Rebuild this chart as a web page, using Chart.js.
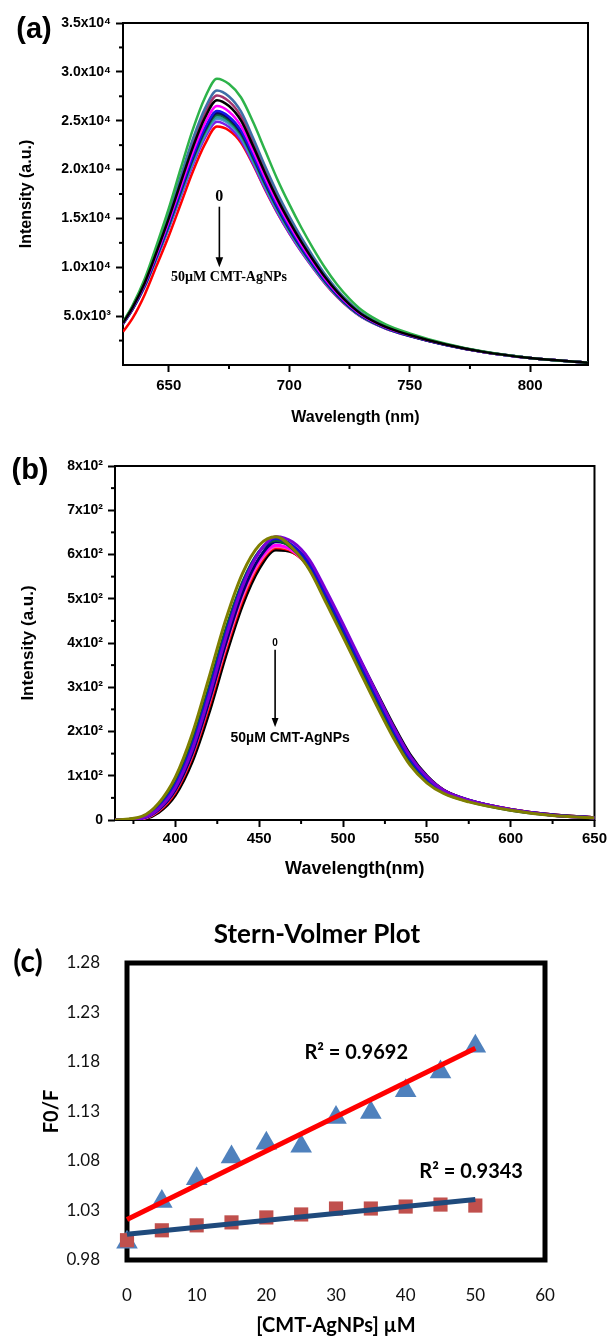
<!DOCTYPE html>
<html>
<head>
<meta charset="utf-8">
<script src="https://cdn.jsdelivr.net/npm/chart.js@4.4.1/dist/chart.umd.min.js"></script>
<style>
  html, body { margin: 0; padding: 0; background: #fff; }
  #page { position: relative; width: 610px; height: 1336px; overflow: hidden; background: #fff; }
  canvas { position: absolute; left: 0; }
</style>
</head>
<body>
<div id="page">
  <canvas id="chartA" width="610" height="440" style="top:0px"></canvas>
  <canvas id="chartB" width="610" height="440" style="top:440px"></canvas>
  <canvas id="chartC" width="610" height="456" style="top:880px"></canvas>
</div>
<script>
// ---- (a) emission spectra, 0 -> 50 uM CMT-AgNPs ----
const aWavelengths = [631, 635, 640, 645, 650, 655, 660, 665, 670, 675, 680, 685, 690, 695, 700, 705, 710, 715, 720, 725, 730, 740, 750, 765, 780, 800, 824];
const aBlack     = [4300, 5900, 8400, 11600, 15000, 18700, 22300, 25300, 27100, 26500, 25000, 22400, 19600, 17000, 14700, 12600, 10700, 8950, 7450, 6200, 5200, 3900, 3070, 2100, 1370, 716, 230];
const aGreen     = [4400, 6120, 8810, 12300, 16030, 20140, 24110, 27350, 29300, 28750, 27380, 24860, 21950, 19040, 16460, 14070, 11890, 9900, 8180, 6760, 5620, 4160, 3240, 2180, 1400, 725, 230];
const aSteel     = [4350, 6000, 8590, 11920, 15470, 19360, 23130, 26240, 28100, 27480, 25930, 23230, 20330, 17630, 15240, 13050, 11070, 9240, 7680, 6370, 5330, 3980, 3120, 2120, 1380, 719, 230];
const aMaroon    = [4320, 5950, 8490, 11760, 15230, 19020, 22700, 25760, 27590, 26980, 25450, 22800, 19950, 17310, 14970, 12820, 10880, 9090, 7560, 6280, 5260, 3940, 3090, 2110, 1375, 717, 230];
const aMagenta   = [4270, 5840, 8290, 11410, 14720, 18310, 21810, 24740, 26500, 25920, 24450, 21910, 19170, 16630, 14380, 12330, 10480, 8780, 7320, 6100, 5120, 3850, 3040, 2090, 1364, 714, 230];
const aBlue      = [4250, 5790, 8190, 11240, 14480, 17970, 21390, 24260, 25990, 25410, 23980, 21480, 18800, 16300, 14100, 12100, 10290, 8630, 7200, 6010, 5060, 3810, 3010, 2070, 1360, 713, 230];
const aNavy      = [4240, 5770, 8160, 11180, 14390, 17850, 21230, 24090, 25800, 25230, 23800, 21330, 18660, 16180, 13990, 12010, 10220, 8570, 7160, 5980, 5030, 3800, 3000, 2070, 1357, 713, 230];
const aDarkGreen = [4230, 5750, 8120, 11120, 14300, 17720, 21070, 23910, 25610, 25040, 23630, 21170, 18520, 16070, 13890, 11930, 10150, 8520, 7110, 5940, 5010, 3780, 2990, 2065, 1355, 712, 230];
const aTeal      = [4220, 5730, 8080, 11050, 14200, 17580, 20900, 23710, 25390, 24830, 23430, 20990, 18370, 15930, 13770, 11830, 10070, 8450, 7070, 5910, 4980, 3770, 2980, 2060, 1353, 711, 230];
const aSky       = [4210, 5710, 8050, 10990, 14110, 17460, 20740, 23530, 25200, 24650, 23250, 20830, 18230, 15810, 13670, 11740, 10000, 8400, 7020, 5870, 4950, 3750, 2970, 2056, 1351, 711, 230];
const aViolet    = [4200, 5690, 7990, 10900, 13970, 17260, 20490, 23250, 24900, 24350, 22980, 20590, 18010, 15620, 13510, 11610, 9890, 8310, 6960, 5820, 4910, 3730, 2960, 2050, 1348, 710, 230];
const aRed       = [3400, 4800, 7200, 10200, 13200, 16500, 19800, 22600, 24400, 24000, 22750, 20500, 17950, 15600, 13500, 11600, 9900, 8300, 6950, 5820, 4910, 3730, 2960, 2050, 1345, 710, 230];
const aSeries = [aBlack, aGreen, aSteel, aMaroon, aMagenta, aBlue, aNavy, aDarkGreen, aTeal, aSky, aViolet, aRed];
const aColors = ['#000000', '#2DB34A', '#3F6FA8', '#A3336F', '#FF00FF', '#1515E8', '#0A0A60', '#0B6B34', '#2A9A9A', '#4D8FD8', '#7A1FE6', '#FF0000'];
const aXTicks = [650, 700, 750, 800];
const aXTickLabels = ['650', '700', '750', '800'];
const aXMinor = [675, 725, 775];
const aYTicks = [5000, 10000, 15000, 20000, 25000, 30000, 35000];
const aYTickLabels = ['5.0x10³', '1.0x10⁴', '1.5x10⁴', '2.0x10⁴', '2.5x10⁴', '3.0x10⁴', '3.5x10⁴'];
const aYMinor = [2500, 7500, 12500, 17500, 22500, 27500, 32500];

// ---- (b) emission spectra ----
const bWavelengths = [364, 380, 390, 400, 410, 420, 430, 440, 450, 460, 470, 480, 490, 500, 510, 520, 530, 540, 550, 560, 575, 600, 625, 650];
const bOlive     = [0, 8, 38, 97, 194, 321, 452, 557, 621, 640, 614, 565, 490, 414, 336, 259, 186, 124, 84, 60, 41, 22, 10, 5];
const bPurple    = [0, 4, 25, 73, 158, 278, 411, 527, 605, 640, 628, 588, 518, 443, 365, 287, 211, 144, 98, 67, 45, 24, 11, 5];
const bBlue      = [0, 5, 28, 79, 167, 289, 420, 532, 606, 636, 620, 577, 507, 432, 355, 278, 203, 138, 93, 65, 44, 23, 11, 5];
const bDarkGreen = [0, 6, 32, 85, 176, 299, 430, 537, 607, 632, 613, 568, 496, 421, 344, 268, 194, 131, 89, 62, 42, 22, 11, 5];
const bNavy      = [0, 4, 23, 68, 150, 267, 398, 513, 592, 629, 618, 580, 512, 439, 362, 286, 211, 145, 98, 67, 45, 24, 12, 5];
const bMagenta   = [0, 4, 24, 70, 153, 270, 399, 511, 587, 621, 609, 570, 502, 429, 354, 279, 205, 140, 95, 65, 44, 23, 11, 5];
const bPink      = [0, 3, 22, 67, 147, 263, 391, 504, 582, 618, 608, 570, 504, 431, 356, 281, 207, 142, 96, 66, 44, 24, 12, 5];
const bRed       = [0, 3, 20, 63, 142, 255, 384, 497, 577, 615, 606, 570, 505, 433, 358, 284, 210, 144, 97, 67, 44, 24, 12, 5];
const bBlack     = [0, 2, 17, 56, 131, 241, 370, 485, 568, 610, 605, 572, 509, 437, 363, 289, 215, 148, 100, 68, 45, 24, 12, 5];
const bSeries = [bOlive, bPurple, bBlue, bDarkGreen, bNavy, bMagenta, bPink, bRed, bBlack];
const bColors = ['#7F7F00', '#7B00D4', '#1010D0', '#0A6628', '#00006E', '#FF00FF', '#FF5FB0', '#FF0000', '#000000'];
const bXTicks = [400, 450, 500, 550, 600, 650];
const bXTickLabels = ['400', '450', '500', '550', '600', '650'];
const bXMinor = [375, 425, 475, 525, 575, 625];
const bYTicks = [0, 100, 200, 300, 400, 500, 600, 700, 800];
const bYTickLabels = ['0', '1x10²', '2x10²', '3x10²', '4x10²', '5x10²', '6x10²', '7x10²', '8x10²'];
const bYMinor = [50, 150, 250, 350, 450, 550, 650, 750];

// ---- (c) Stern-Volmer plot ----
const cConc = [0, 5, 10, 15, 20, 25, 30, 35, 40, 45, 50];
const cTriangles = [0.998, 1.039, 1.062, 1.084, 1.098, 1.095, 1.124, 1.129, 1.151, 1.170, 1.196];
const cSquares = [1.000, 1.010, 1.015, 1.018, 1.023, 1.026, 1.032, 1.032, 1.034, 1.036, 1.035];
const cFitX = [0, 50];
const cRedFit = [1.021, 1.194];
const cBlueFit = [1.006, 1.041];
const cYTicks = [0.98, 1.03, 1.08, 1.13, 1.18, 1.23, 1.28];
const cXTicks = [0, 10, 20, 30, 40, 50, 60];

const SANS = '"Liberation Sans", Arial, sans-serif';
const SERIF = '"Liberation Serif", "Times New Roman", serif';
const CAL = 'Lato, "Open Sans", sans-serif';

const toXY = (xs, ys) => xs.map((x, i) => ({ x: x, y: ys[i] }));

// box around the plot area
const framePlugin = {
    id: 'frame',
    beforeDatasetsDraw(chart, args, opts) {
        const { ctx, chartArea: a } = chart;
        ctx.save();
        ctx.strokeStyle = '#000';
        ctx.lineWidth = opts.width || 2;
        ctx.strokeRect(a.left, a.top, a.right - a.left, a.bottom - a.top);
        ctx.restore();
    }
};

// short outward minor ticks
const minorTicksPlugin = {
    id: 'minorTicks',
    afterDraw(chart, args, opts) {
        const { ctx, chartArea: a, scales } = chart;
        const len = opts.len || 4;
        ctx.save();
        ctx.strokeStyle = '#000';
        ctx.lineWidth = 2;
        (opts.x || []).forEach(v => {
            const px = scales.x.getPixelForValue(v);
            ctx.beginPath(); ctx.moveTo(px, a.bottom); ctx.lineTo(px, a.bottom + len); ctx.stroke();
        });
        (opts.y || []).forEach(v => {
            const py = scales.y.getPixelForValue(v);
            ctx.beginPath(); ctx.moveTo(a.left, py); ctx.lineTo(a.left - len, py); ctx.stroke();
        });
        ctx.restore();
    }
};

// arrows and texts placed in data coordinates
const notesPlugin = {
    id: 'notes',
    afterDatasetsDraw(chart, args, opts) {
        const { ctx, scales: { x, y } } = chart;
        ctx.save();
        ctx.fillStyle = '#000';
        ctx.strokeStyle = '#000';
        (opts.arrows || []).forEach(ar => {
            const px = x.getPixelForValue(ar.x);
            const y1 = y.getPixelForValue(ar.from);
            const y2 = y.getPixelForValue(ar.to);
            ctx.lineWidth = ar.width;
            ctx.beginPath(); ctx.moveTo(px, y1); ctx.lineTo(px, y2 - ar.head + 1); ctx.stroke();
            ctx.beginPath();
            ctx.moveTo(px - ar.head * 0.38, y2 - ar.head);
            ctx.lineTo(px + ar.head * 0.38, y2 - ar.head);
            ctx.lineTo(px, y2);
            ctx.closePath(); ctx.fill();
        });
        (opts.texts || []).forEach(t => {
            ctx.font = t.font;
            ctx.textAlign = 'center';
            ctx.textBaseline = 'middle';
            ctx.fillText(t.text, x.getPixelForValue(t.x), y.getPixelForValue(t.y));
        });
        ctx.restore();
    }
};

// panel letters and titles, canvas coordinates
const panelTextPlugin = {
    id: 'panelText',
    afterDraw(chart, args, opts) {
        const { ctx } = chart;
        ctx.save();
        ctx.fillStyle = '#000';
        ctx.textBaseline = 'middle';
        (opts.items || []).forEach(t => {
            ctx.font = t.font;
            ctx.textAlign = t.align || 'center';
            ctx.fillText(t.text, t.x, t.y);
        });
        ctx.restore();
    }
};

function spectrumScales(cfg) {
    return {
        x: {
            type: 'linear', min: cfg.xMin, max: cfg.xMax,
            afterBuildTicks: s => { s.ticks = cfg.xTicks.map(v => ({ value: v })); },
            afterFit: s => { s.height = cfg.xHeight; },
            ticks: {
                autoSkip: false, maxRotation: 0, padding: cfg.xPad, color: '#000',
                font: { family: SANS, size: 15, weight: 'bold' },
                callback: (v, i) => cfg.xLabels[i]
            },
            grid: { drawOnChartArea: false, tickLength: 7, tickWidth: 2, tickColor: '#000' },
            border: { display: false },
            title: {
                display: true, text: cfg.xTitle, color: '#000',
                font: { family: SANS, size: cfg.xTitleSize, weight: 'bold', lineHeight: 1.2 },
                padding: { top: 0, bottom: cfg.xTitlePad }
            }
        },
        y: {
            type: 'linear', min: cfg.yMin, max: cfg.yMax,
            afterBuildTicks: s => { s.ticks = cfg.yTicks.map(v => ({ value: v })); },
            afterFit: s => { s.width = cfg.yWidth; },
            ticks: {
                autoSkip: false, padding: 5, color: '#000',
                font: { family: SANS, size: 14, weight: 'bold' },
                callback: (v, i) => cfg.yLabels[i]
            },
            grid: { drawOnChartArea: false, tickLength: 7, tickWidth: 2, tickColor: '#000' },
            border: { display: false },
            title: {
                display: true, text: 'Intensity (a.u.)', color: '#000',
                font: { family: SANS, size: cfg.yTitleSize, weight: 'bold', lineHeight: 1.2 },
                padding: { top: cfg.yTitlePad, bottom: 0 }
            }
        }
    };
}

document.addEventListener('DOMContentLoaded', () => {
    Chart.defaults.animation = false;
    Chart.defaults.devicePixelRatio = 1;

    // === (a) ===
    new Chart(document.getElementById('chartA'), {
        type: 'line',
        data: {
            datasets: aSeries.map((ys, i) => ({
                data: toXY(aWavelengths, ys),
                borderColor: aColors[i],
                borderWidth: 2.5,
                pointRadius: 0,
                fill: false,
                cubicInterpolationMode: 'monotone'
            }))
        },
        options: {
            responsive: false,
            layout: { padding: { top: 23, right: 22, left: 0, bottom: 0 } },
            scales: spectrumScales({
                xMin: 631, xMax: 824, xTicks: aXTicks, xLabels: aXTickLabels, xHeight: 75, xPad: 5,
                xTitle: 'Wavelength (nm)', xTitleSize: 16, xTitlePad: 13,
                yMin: 0, yMax: 35000, yTicks: aYTicks, yLabels: aYTickLabels, yWidth: 123,
                yTitleSize: 16, yTitlePad: 17
            }),
            plugins: {
                legend: { display: false },
                tooltip: { enabled: false },
                frame: { width: 2 },
                minorTicks: { x: aXMinor, y: aYMinor, len: 4 },
                notes: {
                    arrows: [{ x: 671, from: 16200, to: 10000, head: 10, width: 1.6 }],
                    texts: [
                        { text: '0', x: 671, y: 17250, font: 'bold 16px ' + SERIF },
                        { text: '50µM CMT-AgNPs', x: 675, y: 9000, font: 'bold 14px ' + SERIF }
                    ]
                },
                panelText: { items: [{ text: '(a)', x: 34, y: 30, font: 'bold 29px ' + SANS }] }
            }
        },
        plugins: [framePlugin, minorTicksPlugin, notesPlugin, panelTextPlugin]
    });

    // === (b) ===
    new Chart(document.getElementById('chartB'), {
        type: 'line',
        data: {
            datasets: bSeries.map((ys, i) => ({
                data: toXY(bWavelengths, ys),
                borderColor: bColors[i],
                borderWidth: 3,
                pointRadius: 0,
                fill: false,
                cubicInterpolationMode: 'monotone'
            }))
        },
        options: {
            responsive: false,
            layout: { padding: { top: 26, right: 14, left: 0, bottom: 0 } },
            scales: spectrumScales({
                xMin: 364, xMax: 650, xTicks: bXTicks, xLabels: bXTickLabels, xHeight: 60, xPad: 3,
                xTitle: 'Wavelength(nm)', xTitleSize: 18, xTitlePad: 0,
                yMin: 0, yMax: 800, yTicks: bYTicks, yLabels: bYTickLabels, yWidth: 115,
                yTitleSize: 17, yTitlePad: 18
            }),
            plugins: {
                legend: { display: false },
                tooltip: { enabled: false },
                frame: { width: 2 },
                minorTicks: { x: bXMinor, y: bYMinor, len: 4 },
                notes: {
                    arrows: [{ x: 459.5, from: 385, to: 210, head: 9, width: 1.6 }],
                    texts: [
                        { text: '0', x: 459.5, y: 400, font: 'bold 10px ' + SANS },
                        { text: '50µM CMT-AgNPs', x: 468.5, y: 185, font: 'bold 14px ' + SANS }
                    ]
                },
                panelText: { items: [{ text: '(b)', x: 30, y: 31, font: 'bold 29px ' + SANS }] }
            }
        },
        plugins: [framePlugin, minorTicksPlugin, notesPlugin, panelTextPlugin]
    });

    // === (c) Stern-Volmer ===
    new Chart(document.getElementById('chartC'), {
        type: 'scatter',
        data: {
            datasets: [
                { type: 'line', data: toXY(cFitX, cRedFit), borderColor: '#FF0000', borderWidth: 5, pointRadius: 0, clip: false },
                { type: 'line', data: toXY(cFitX, cBlueFit), borderColor: '#1F4A7C', borderWidth: 5, pointRadius: 0, clip: false },
                { data: toXY(cConc, cSquares), pointStyle: 'rect', pointRadius: 10, backgroundColor: '#C0504D', borderWidth: 0, clip: false },
                { data: toXY(cConc, cTriangles), pointStyle: 'triangle', pointRadius: 12.5, backgroundColor: '#4F81BD', borderWidth: 0, clip: false }
            ]
        },
        options: {
            responsive: false,
            layout: { padding: { top: 83, right: 65, left: 0, bottom: 0 } },
            scales: {
                x: {
                    type: 'linear', min: 0, max: 60,
                    afterBuildTicks: s => { s.ticks = cXTicks.map(v => ({ value: v })); },
                    afterFit: s => { s.height = 76; },
                    ticks: { autoSkip: false, maxRotation: 0, padding: 17, color: '#111', font: { family: CAL, size: 17 } },
                    grid: { display: false },
                    border: { display: false },
                    title: {
                        display: true, text: '[CMT-AgNPs] µM', color: '#000',
                        font: { family: CAL, size: 20, weight: 'bold', lineHeight: 1 },
                        padding: { top: 0, bottom: 0 }
                    }
                },
                y: {
                    type: 'linear', min: 0.98, max: 1.28,
                    afterBuildTicks: s => { s.ticks = cYTicks.map(v => ({ value: v })); },
                    afterFit: s => { s.width = 127; },
                    ticks: { autoSkip: false, padding: 19, color: '#111', font: { family: CAL, size: 17 }, callback: v => v.toFixed(2) },
                    grid: { display: false },
                    border: { display: false },
                    title: {
                        display: true, text: 'F0/F', color: '#000',
                        font: { family: CAL, size: 20, weight: 'bold', lineHeight: 1 },
                        padding: { top: 42, bottom: 0 }
                    }
                }
            },
            plugins: {
                legend: { display: false },
                tooltip: { enabled: false },
                frame: { width: 5 },
                notes: {
                    texts: [
                        { text: 'R² = 0.9692', x: 32.9, y: 1.190, font: 'bold 20px ' + CAL },
                        { text: 'R² = 0.9343', x: 49.4, y: 1.069, font: 'bold 20px ' + CAL }
                    ]
                },
                panelText: {
                    items: [
                        { text: 'Stern-Volmer Plot', x: 317, y: 55, font: 'bold 26px ' + CAL },
                        { text: '(c)', x: 28, y: 82, font: 'bold 30px ' + CAL }
                    ]
                }
            }
        },
        plugins: [framePlugin, notesPlugin, panelTextPlugin]
    });
});
</script>
</body>
</html>
